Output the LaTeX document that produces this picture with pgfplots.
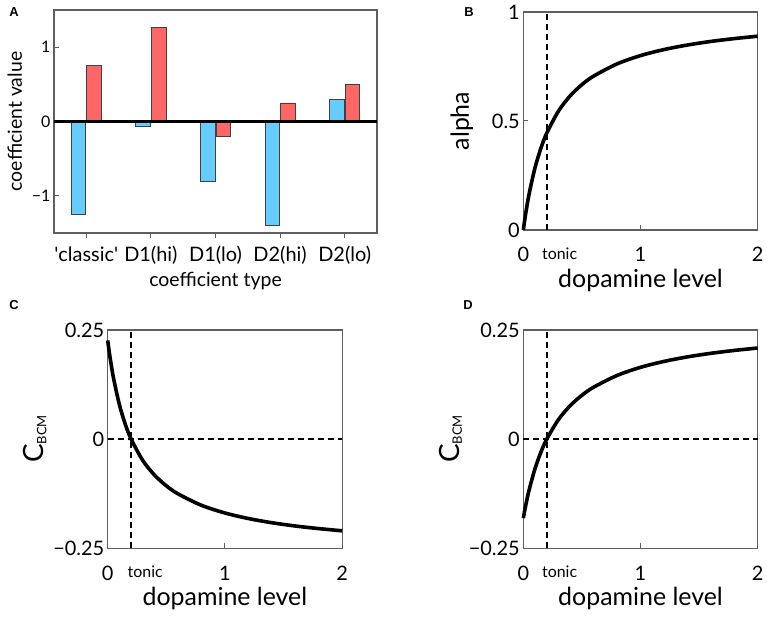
\documentclass[border=0pt]{standalone}
\usepackage{fontspec}
\setmainfont{Lato}
\newfontfamily\labfont{Liberation Sans}
\usepackage{pgfplots}
\pgfplotsset{compat=1.18}
\definecolor{barblue}{RGB}{102,204,255}
\definecolor{barred}{RGB}{255,102,102}
\definecolor{framec}{RGB}{95,95,95}
\tikzset{tonic/.style={anchor=north, font=\fontsize{16}{16}\selectfont, yshift=-14bp}}
\pgfplotsset{
  common/.style={scale only axis, anchor=south west, clip=false,
    axis line style={framec, line width=1.1bp},
    tick style={framec, line width=1bp}, major tick length=5bp,
    tick align=inside, xtick pos=bottom, ytick pos=left,
    /pgf/number format/assume math mode=true},
  curvepanel/.style={common, width=234.4bp, height=218.3bp,
    xmin=0, xmax=2, xtick={0,1,2}, xticklabels={0,1,2},
    tick label style={font=\fontsize{20}{20}\selectfont},
    xticklabel style={yshift=-14bp},
    label style={font=\fontsize{25}{25}\selectfont},
    xlabel={dopamine level}},
  curve/.style={black, line width=3.6bp, smooth, no marks},
  dline/.style={black, line width=1.7bp, dash pattern=on 6bp off 4bp, no marks},
}
\pgfplotstableread{
x a
0 0
0.02 0.0741
0.05 0.1667
0.1 0.2857
0.15 0.375
0.2 0.4444
0.3 0.5455
0.4 0.6154
0.5 0.6667
0.6 0.7059
0.8 0.7619
1.0 0.8
1.2 0.8276
1.4 0.8485
1.6 0.8649
1.8 0.8780
2.0 0.8889
}\alphatab
\pgfplotstableread{
x c
0 0.2261
0.02 0.1872
0.05 0.1393
0.1 0.0788
0.15 0.0342
0.2 0
0.3 -0.0491
0.4 -0.0825
0.5 -0.1068
0.6 -0.1253
0.8 -0.1515
1.0 -0.1691
1.2 -0.1818
1.4 -0.1914
1.6 -0.1989
1.8 -0.2049
2.0 -0.2099
}\ctab
\pgfplotstableread{
x c
0 -0.1810
0.02 -0.1525
0.05 -0.1160
0.1 -0.0675
0.15 -0.0300
0.2 0
0.3 0.0448
0.4 0.0767
0.5 0.1005
0.6 0.1190
0.8 0.1459
1.0 0.1645
1.2 0.1780
1.4 0.1884
1.6 0.1966
1.8 0.2032
2.0 0.2087
}\dtab
\begin{document}
\begin{tikzpicture}
\path[use as bounding box] (0,0) rectangle (767bp,617bp);
% Panel labels
\node[font=\labfont\bfseries\fontsize{13}{13}\selectfont] at (14bp,605bp) {A};
\node[font=\labfont\bfseries\fontsize{13}{13}\selectfont] at (469bp,605bp) {B};
\node[font=\labfont\bfseries\fontsize{13}{13}\selectfont] at (14bp,312bp) {C};
\node[font=\labfont\bfseries\fontsize{13}{13}\selectfont] at (468bp,312bp) {D};
% Panel A
\begin{axis}[common, at={(54bp,384bp)}, width=323bp, height=223bp,
  xmin=-0.5, xmax=4.5, ymin=-1.5, ymax=1.5,
  xtick={0,1,2,3,4}, xticklabels={\textquotesingle classic\textquotesingle, D1(hi), D1(lo), D2(hi), D2(lo)},
  ytick={-1,0,1}, yticklabels={−1,0,1},
  yticklabel style={font=\fontsize{16}{16}\selectfont},
  xticklabel style={font=\fontsize{20}{20}\selectfont, yshift=-5bp},
  label style={font=\fontsize{19.5}{19.5}\selectfont},
  ylabel style={yshift=3bp},
  xlabel={coefficient type}, ylabel={coefficient value},
  ybar, bar width=14.5bp]
\addplot[fill=barblue, draw=black!75, line width=0.8bp, bar shift=-7.8bp] coordinates {(0,-1.25) (1,-0.07) (2,-0.80) (3,-1.40) (4,0.30)};
\addplot[fill=barred, draw=black!75, line width=0.8bp, bar shift=7.8bp] coordinates {(0,0.75) (1,1.27) (2,-0.20) (3,0.25) (4,0.50)};
\draw[black, line width=2.6bp] (axis cs:-0.5,0) -- (axis cs:4.5,0);
\end{axis}
% Panel B
\begin{axis}[curvepanel, at={(523.3bp,387bp)}, height=218bp,
  ymin=0, ymax=1, ytick={0,0.5,1}, yticklabels={0,0.5,1},
  ylabel style={yshift=12bp},
  ylabel={alpha}]
\addplot[dline] coordinates {(0.2,0) (0.2,1)};
\addplot[curve] table[x=x,y=a] {\alphatab};
\node[tonic] at (axis cs:0.31,0) {tonic};
\end{axis}
% Panel C
\begin{axis}[curvepanel, at={(107.7bp,68.7bp)},
  ymin=-0.25, ymax=0.25, ytick={-0.25,0,0.25}, yticklabels={−0.25,0,0.25},
  ylabel={\fontsize{28}{28}\selectfont C\raisebox{-0.2ex}{\fontsize{13}{13}\selectfont BCM}}]
\addplot[dline] coordinates {(0.2,-0.25) (0.2,0.25)};
\addplot[dline] coordinates {(0,0) (2,0)};
\addplot[curve] table[x=x,y=c] {\ctab};
\node[tonic] at (axis cs:0.32,-0.25) {tonic};
\end{axis}
% Panel D
\begin{axis}[curvepanel, at={(523.3bp,68.7bp)},
  ymin=-0.25, ymax=0.25, ytick={-0.25,0,0.25}, yticklabels={−0.25,0,0.25},
  ylabel={\fontsize{28}{28}\selectfont C\raisebox{-0.2ex}{\fontsize{13}{13}\selectfont BCM}}]
\addplot[dline] coordinates {(0.2,-0.25) (0.2,0.25)};
\addplot[dline] coordinates {(0,0) (2,0)};
\addplot[curve] table[x=x,y=c] {\dtab};
\node[tonic] at (axis cs:0.31,-0.25) {tonic};
\end{axis}
\end{tikzpicture}
\end{document}
